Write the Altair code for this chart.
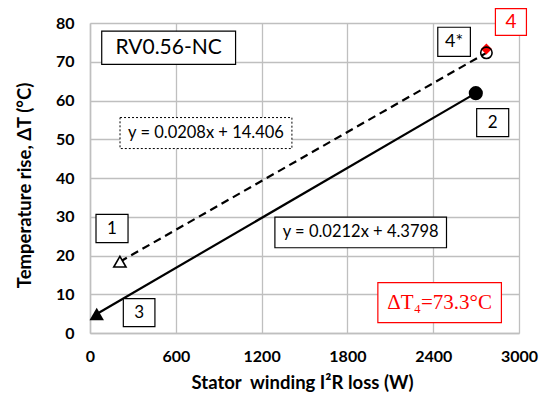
import altair as alt
import pandas as pd

# --- data ---
dashed_x = [209, 2772]      # case 1 -> case 4*
dashed_y = [18.4, 72.3]
solid_x = [47, 2698]        # case 3 -> case 2
solid_y = [4.9, 61.9]
red_x = [2772]
red_y = [73.3]

x_ticks = [0, 600, 1200, 1800, 2400, 3000]
y_ticks = [0, 10, 20, 30, 40, 50, 60, 70, 80]

# annotation boxes: label, x0, x1, y0, y1 (data units)
ann_text = ["RV0.56-NC", "y = 0.0208x + 14.406", "y = 0.0212x + 4.3798",
            "ΔT₄=73.3°C", "1", "3", "2", "4*", "4"]
ann_x0 = [82, 210, 1293, 2013, 42, 233, 2704, 2432, 2835]
ann_x1 = [1018, 1412, 2493, 2877, 266, 454, 2928, 2660, 3052]
ann_y0 = [69.3, 47.6, 22.0, 2.66, 23.3, 1.63, 50.7, 71.4, 76.8]
ann_y1 = [77.9, 55.6, 29.9, 13.0, 30.6, 8.86, 57.9, 78.9, 83.7]

GRID = "#bfbfbf"
FONT = "Lato"

dash_df = pd.DataFrame({"x": dashed_x, "y": dashed_y})
solid_df = pd.DataFrame({"x": solid_x, "y": solid_y})
red_df = pd.DataFrame({"x": red_x, "y": red_y})

ann = pd.DataFrame({"t": ann_text, "x0": ann_x0, "x1": ann_x1,
                    "y0": ann_y0, "y1": ann_y1})
ann["xc"] = (ann["x0"] + ann["x1"]) / 2
ann["yc"] = (ann["y0"] + ann["y1"]) / 2

xs = alt.Scale(domain=[0, 3000], nice=False, zero=False)
ys = alt.Scale(domain=[0, 80], nice=False, zero=False)

XA = alt.Axis(
    values=x_ticks, format="d", title="Stator\u00a0 winding I²R loss (W)",
    grid=True, titleX=212, titleY=49, titleAlign="center",
    titleBaseline="middle", labelOverlap=False, labelFlush=False)
YA = alt.Axis(
    values=y_ticks, format="d", title="Temperature rise, ΔT (°C)", grid=True,
    titleX=-66, titleY=162, titleAngle=-90, titleAlign="center",
    titleBaseline="middle", labelOverlap=False, labelFlush=False)

X = alt.X("x:Q", scale=xs, axis=XA)
Y = alt.Y("y:Q", scale=ys, axis=YA)

dashed_line = alt.Chart(dash_df).mark_line(
    color="black", strokeWidth=2.2, strokeDash=[8, 5]).encode(x=X, y=Y)
solid_line = alt.Chart(solid_df).mark_line(
    color="black", strokeWidth=2.2).encode(x=X, y=Y)

open_tri = alt.Chart(dash_df.iloc[[0]]).mark_point(
    shape="triangle-up", size=150, filled=True, fill="white",
    stroke="black", strokeWidth=1.6, opacity=1).encode(x=X, y=Y)
open_circ = alt.Chart(dash_df.iloc[[1]]).mark_point(
    shape="circle", size=130, filled=False, stroke="black",
    strokeWidth=1.6, opacity=1).encode(x=X, y=Y)
fill_tri = alt.Chart(solid_df.iloc[[0]]).mark_point(
    shape="triangle-up", size=210, filled=True, color="black",
    opacity=1).encode(x=X, y=Y)
fill_circ = alt.Chart(solid_df.iloc[[1]]).mark_point(
    shape="circle", size=200, filled=True, color="black",
    opacity=1).encode(x=X, y=Y)
red_pt = alt.Chart(red_df).mark_point(
    shape="diamond", size=120, filled=True, color="#ff0000",
    opacity=1).encode(x=X, y=Y)


def box(idx, stroke="black", dash=None, fill="white", sw=1.2):
    d = ann.iloc[idx]
    kw = dict(fill=fill, stroke=stroke, strokeWidth=sw)
    if dash:
        kw["strokeDash"] = dash
    return alt.Chart(d).mark_rect(**kw).encode(
        x=alt.X("x0:Q", scale=xs, axis=XA), x2="x1:Q",
        y=alt.Y("y0:Q", scale=ys, axis=YA), y2="y1:Q")


def label(idx, size, color="black", font=FONT):
    d = ann.iloc[idx]
    return alt.Chart(d).mark_text(
        fontSize=size, color=color, font=font, align="center",
        baseline="middle").encode(
        x=alt.X("xc:Q", scale=xs, axis=XA),
        y=alt.Y("yc:Q", scale=ys, axis=YA), text="t:N")


layers = [
    dashed_line, solid_line,
    box([0]), label([0], 21),
    box([1], dash=[2, 2], sw=1.0), label([1], 16.5),
    box([2]), label([2], 16.5),
    box([3], stroke="#ff0000"), label([3], 21, color="#ff0000",
                                      font="Liberation Serif"),
    box([4]), label([4], 17),
    box([5]), label([5], 17),
    box([6]), label([6], 17),
    box([7]), label([7], 18),
    box([8], stroke="#ff0000"), label([8], 19, color="#ff0000"),
    open_tri, fill_tri, fill_circ, red_pt, open_circ,
]

chart = alt.layer(*layers).properties(
    width=429, height=310,
    autosize=alt.AutoSizeParams(type="none"),
    padding={"left": 82, "top": 15, "right": 21, "bottom": 60},
).configure_view(stroke="transparent").configure_axis(
    domainColor=GRID, domainWidth=1.5, gridColor=GRID, gridWidth=1.3,
    gridOpacity=1, ticks=False, labelFont=FONT, labelFontWeight="bold",
    labelFontSize=16, labelColor="black", labelPadding=15,
    titleFont=FONT, titleFontWeight="bold", titleFontSize=18.5,
    titleColor="black",
).configure_axisY(labelPadding=16)

chart.save("out.html", embed_options={"renderer": "svg", "actions": False})
